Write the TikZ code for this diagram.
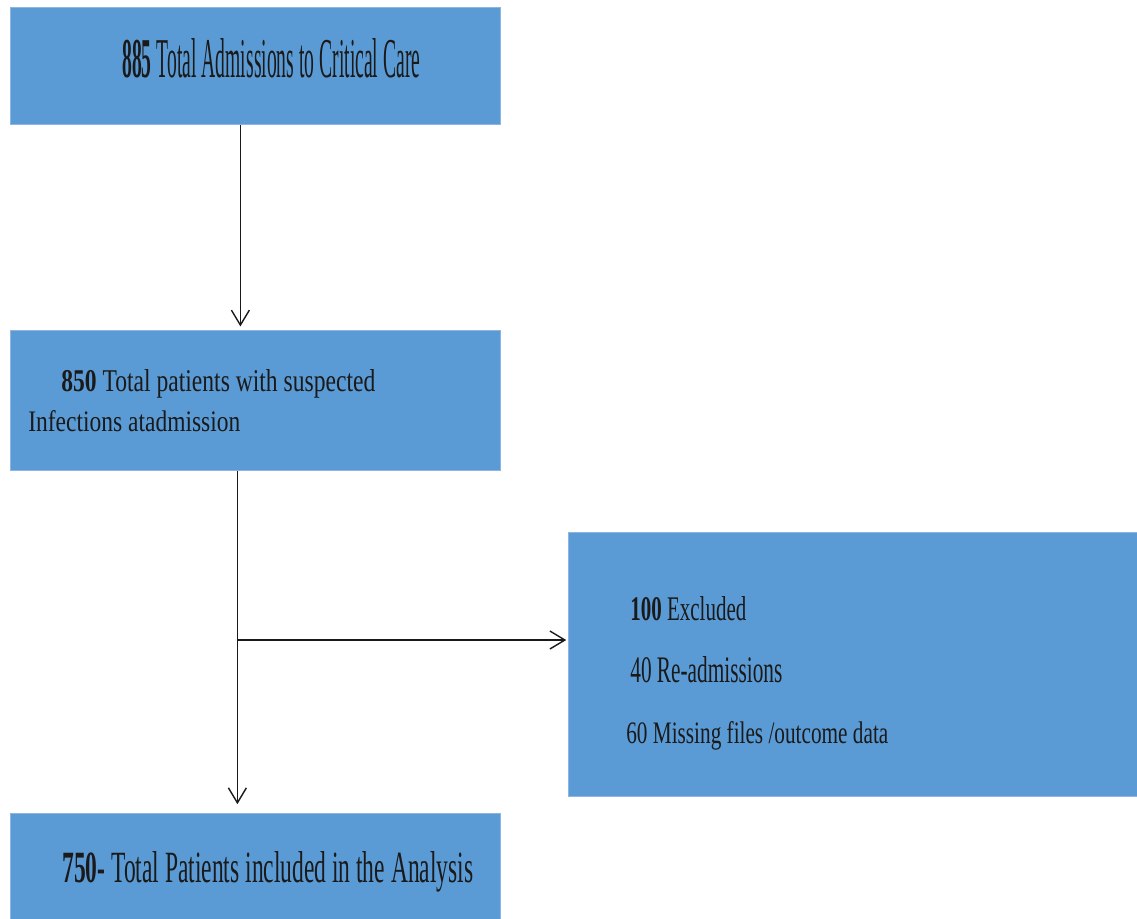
\documentclass[tikz,border=0pt]{standalone}
\usepackage{fontspec}
\setmainfont{Liberation Serif}
\usepackage{graphicx}
\usetikzlibrary{arrows.meta}
\definecolor{boxblue}{HTML}{5B9BD5}
\definecolor{boxedge}{HTML}{8DB5E0}
\definecolor{txtcol}{HTML}{1A1A1A}
\begin{document}
\begin{tikzpicture}[x=0.02cm,y=-0.02cm,
  flowbox/.style={draw=boxedge,line width=0.5pt,fill=boxblue,inner sep=0pt,anchor=north west},
  txt/.style={inner sep=0pt,anchor=base west,text=txtcol},
  arr/.style={draw=black!90,line width=0.8pt,-{Straight Barb[length=0.3cm,width=0.36cm,line width=0.8pt]}}]
\useasboundingbox (0,0) rectangle (1137,919);
% boxes
\node[flowbox,minimum width=9.8cm,minimum height=2.34cm] (b1) at (10,7) {};
\node[flowbox,minimum width=9.8cm,minimum height=2.8cm] (b2) at (10,330) {};
\node[flowbox,minimum width=11.38cm,minimum height=5.28cm] (b3) at (568,532) {};
\node[flowbox,minimum width=9.8cm,minimum height=2.2cm] (b4) at (10,813) {};
% texts
\node[txt] (t1) at (122,78) {\resizebox{5.96cm}{0.78cm}{\textbf{885} Total Admissions to Critical Care}};
\node[txt] (t2a) at (61,391) {\resizebox{6.28cm}{0.44cm}{\textbf{850} Total patients with suspected}};
\node[txt] (t2b) at (28,431) {\resizebox{4.24cm}{0.42cm}{Infections atadmission}};
\node[txt] (t3a) at (630,620) {\resizebox{2.32cm}{0.48cm}{\textbf{100} Excluded}};
\node[txt] (t3b) at (630,682) {\resizebox{3.04cm}{0.52cm}{40 Re-admissions}};
\node[txt] (t3c) at (626,743) {\resizebox{5.24cm}{0.44cm}{60 Missing files /outcome data}};
\node[txt] (t4) at (62,882) {\resizebox{8.22cm}{0.62cm}{\textbf{750-} Total Patients included in the Analysis}};
% connectors
\coordinate (j) at (237,640);
\draw[arr,shorten >=2pt] ([xshift=-0.3cm]b1.south) -- ([xshift=-0.3cm]b2.north);
\draw[arr,shorten >=5pt] ([xshift=-0.36cm]b2.south) -- ([xshift=-0.36cm]b4.north);
\draw[arr,shorten >=1pt] (j) -- (b3.west |- j);
\end{tikzpicture}
\end{document}
